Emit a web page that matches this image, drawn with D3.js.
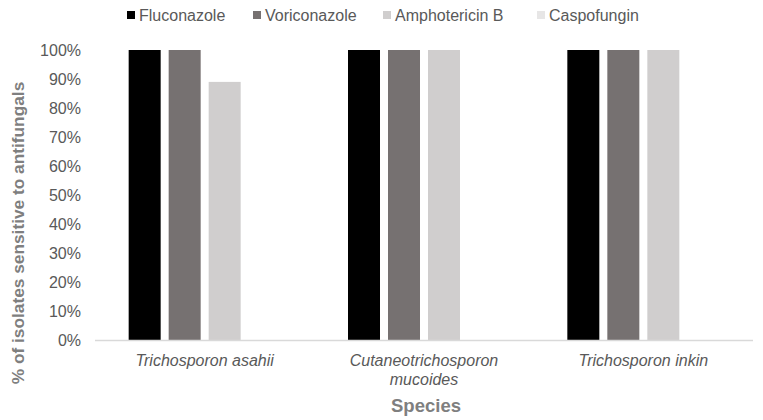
<!DOCTYPE html>
<html>
<head>
<meta charset="utf-8">
<script src="https://cdn.jsdelivr.net/npm/d3@7"></script>
<style>
  body { margin: 0; background: #fff; }
  svg { font-family: "Liberation Sans", Arial, sans-serif; }
</style>
</head>
<body>
<div id="chart"></div>
<script>
// chart data
const species = [['Trichosporon asahii'], ['Cutaneotrichosporon', 'mucoides'], ['Trichosporon inkin']];
const drugs = ['Fluconazole', 'Voriconazole', 'Amphotericin B', 'Caspofungin'];
const fluconazole = [100, 100, 100];
const voriconazole = [100, 100, 100];
const amphotericinB = [89, 100, 100];
const caspofungin = [0, 0, 0];
const yTicks = [0, 10, 20, 30, 40, 50, 60, 70, 80, 90, 100];

const colors = ['#000000', '#767171', '#d0cece', '#e7e6e6'];
const seriesValues = [fluconazole, voriconazole, amphotericinB, caspofungin];

const width = 763, height = 420;
const plotLeft = 95, plotRight = 753, plotTop = 50, plotBottom = 340;

const svg = d3.select('#chart')
              .append('svg')
              .attr('width', width)
              .attr('height', height);

const names = species.map(d => d.join(' '));

let x0 = d3.scaleBand().domain(names).range([plotLeft, plotRight]).padding(0);
let groupW = 152;
let x1 = d3.scaleBand().domain(drugs).range([0, groupW]).paddingInner(0.2).paddingOuter(0);
let y = d3.scaleLinear().domain([0, 100]).range([plotBottom, plotTop]);

// y tick labels (no axis line, no gridlines)
let yAxis = d3.axisLeft(y).tickValues(yTicks).tickFormat(d => d + '%').tickSize(0).tickPadding(14);
let yG = svg.append('g')
            .attr('transform', 'translate(' + plotLeft + ',0)')
            .call(yAxis);
yG.select('.domain').remove();
yG.attr('font-family', null).attr('font-size', null);
yG.selectAll('text')
  .attr('dy', '0.36em')
  .style('font-size', '16px')
  .style('fill', '#595959');

// bars
const rows = [];
names.forEach((n, i) => {
  drugs.forEach((dr, j) => {
    rows.push({sp: n, drug: dr, value: seriesValues[j][i], c: colors[j]});
  });
});

svg.selectAll('rect.bar')
   .data(rows)
   .enter()
   .append('rect')
   .attr('class', 'bar')
   .attr('x', d => x0(d.sp) + (x0.bandwidth() - groupW) / 2 + x1(d.drug))
   .attr('y', d => y(d.value))
   .attr('width', x1.bandwidth())
   .attr('height', d => y(0) - y(d.value))
   .style('fill', d => d.c);

// x axis line
svg.append('line')
   .attr('x1', plotLeft).attr('x2', plotRight)
   .attr('y1', plotBottom + 0.5).attr('y2', plotBottom + 0.5)
   .style('stroke', '#d9d9d9')
   .style('stroke-width', 1.3);

// category labels
species.forEach((lines, i) => {
  let cx = x0(names[i]) + x0.bandwidth() / 2;
  let t = svg.append('text')
             .attr('y', 366)
             .style('text-anchor', 'middle')
             .style('font-style', 'italic')
             .style('font-size', '16px')
             .style('fill', '#595959');
  lines.forEach((ln, k) => {
    t.append('tspan')
     .attr('x', cx)
     .attr('dy', k === 0 ? 0 : 19)
     .text(ln);
  });
});

// axis titles
svg.append('text')
   .attr('x', 426)
   .attr('y', 412)
   .style('text-anchor', 'middle')
   .style('font-weight', 'bold')
   .style('font-size', '18.5px')
   .style('fill', '#7f7f7f')
   .text('Species');

svg.append('text')
   .attr('transform', 'translate(24,233) rotate(-90)')
   .style('text-anchor', 'middle')
   .style('font-weight', 'bold')
   .style('font-size', '17.3px')
   .style('fill', '#7f7f7f')
   .text('% of isolates sensitive to antifungals');

// legend
const legendX = [127, 253, 383, 537];
const legend = svg.selectAll('g.leg')
                  .data(drugs)
                  .enter()
                  .append('g')
                  .attr('class', 'leg')
                  .attr('transform', (d, i) => 'translate(' + legendX[i] + ',0)');
legend.append('rect')
      .attr('x', 0).attr('y', 11)
      .attr('width', 8).attr('height', 8)
      .style('fill', (d, i) => colors[i]);
legend.append('text')
      .attr('x', 12)
      .attr('y', 21)
      .style('font-size', '16px')
      .style('fill', '#595959')
      .text(d => d);
</script>
</body>
</html>
